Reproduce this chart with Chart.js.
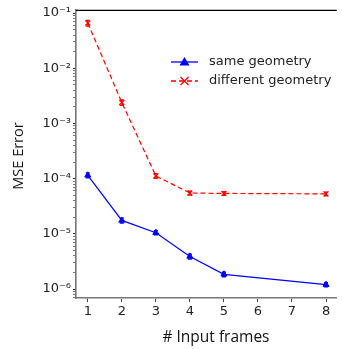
<!DOCTYPE html>
<html lang="en">
<head>
    <meta charset="UTF-8">
    <title>MSE Error vs Input frames</title>
    <script src="https://cdn.jsdelivr.net/npm/chart.js"></script>
    <style>
        html, body { margin: 0; padding: 0; background: #fff; }
        #wrap { width: 342px; height: 349px; }
    </style>
</head>
<body>
<div id="wrap"><canvas id="mseChart" width="342" height="349"></canvas></div>
<script>
// data
var frames = [1, 2, 3, 4, 5, 8];
var sameGeometry = [1.15e-4, 1.75e-5, 1.05e-5, 3.9e-6, 1.85e-6, 1.2e-6];
var sameErr = [1.2e-5, 1.8e-6, 9e-7, 4e-7, 1.8e-7, 1.1e-7];
var diffGeometry = [6.6e-2, 2.4e-3, 1.12e-4, 5.5e-5, 5.4e-5, 5.3e-5];
var diffErr = [8e-3, 2.8e-4, 1.1e-5, 4.5e-6, 4e-6, 4e-6];
var xTicks = [1, 2, 3, 4, 5, 6, 7, 8];
var yDecades = [1e-6, 1e-5, 1e-4, 1e-3, 1e-2, 1e-1];
var yTickLabels = ['10\u207B\u2076', '10\u207B\u2075', '10\u207B\u2074', '10\u207B\u00B3', '10\u207B\u00B2', '10\u207B\u00B9'];
var xTitle = '# Input frames';
var yTitle = 'MSE Error';

var tickFont = { family: 'DejaVu Sans', size: 13 };

// small vertical error bars with caps
var errorBars = {
    id: 'errorBars',
    afterDatasetsDraw: function (chart) {
        var ctx = chart.ctx;
        var xs = chart.scales.x, ys = chart.scales.y;
        chart.data.datasets.forEach(function (ds) {
            if (!ds.errors) return;
            ctx.save();
            ctx.strokeStyle = ds.borderColor;
            ctx.lineWidth = 1.3;
            ds.data.forEach(function (p, i) {
                var px = xs.getPixelForValue(p.x);
                var y1 = ys.getPixelForValue(p.y - ds.errors[i]);
                var y2 = ys.getPixelForValue(p.y + ds.errors[i]);
                ctx.beginPath();
                ctx.moveTo(px, y1); ctx.lineTo(px, y2);
                ctx.moveTo(px - 2, y1); ctx.lineTo(px + 2, y1);
                ctx.moveTo(px - 2, y2); ctx.lineTo(px + 2, y2);
                ctx.stroke();
            });
            ctx.restore();
        });
    }
};

// top spine, axis titles and legend inside the axes
var frameAndLegend = {
    id: 'frameAndLegend',
    afterDraw: function (chart) {
        var ctx = chart.ctx, a = chart.chartArea;
        ctx.save();
        ctx.strokeStyle = '#000';
        ctx.lineWidth = 1.3;
        ctx.beginPath();
        ctx.moveTo(a.left, a.top + 0.5);
        ctx.lineTo(a.right, a.top + 0.5);
        ctx.stroke();

        // axis titles
        ctx.fillStyle = '#111';
        ctx.textAlign = 'center';
        ctx.textBaseline = 'middle';
        ctx.font = '15.5px "Open Sans"';
        ctx.fillText(xTitle, 216, 338);
        ctx.save();
        ctx.translate(19, 156);
        ctx.rotate(-Math.PI / 2);
        ctx.font = '14.5px "Open Sans"';
        ctx.fillText(yTitle, 0, 0);
        ctx.restore();

        var x0 = 171, y0 = 62, gap = 19;
        chart.data.datasets.forEach(function (ds, i) {
            var y = y0 + i * gap;
            ctx.strokeStyle = ds.borderColor;
            ctx.lineWidth = 1.3;
            ctx.setLineDash(ds.borderDash || []);
            ctx.beginPath();
            ctx.moveTo(x0, y); ctx.lineTo(x0 + 27, y);
            ctx.stroke();
            ctx.setLineDash([]);
            var cx = x0 + 13.5;
            ctx.fillStyle = ds.borderColor;
            ctx.beginPath();
            if (ds.pointStyle === 'triangle') {
                ctx.moveTo(cx, y - 5); ctx.lineTo(cx + 5, y + 3.5); ctx.lineTo(cx - 5, y + 3.5);
                ctx.closePath(); ctx.fill();
            } else {
                ctx.moveTo(cx - 4, y - 4); ctx.lineTo(cx + 4, y + 4);
                ctx.moveTo(cx + 4, y - 4); ctx.lineTo(cx - 4, y + 4);
                ctx.stroke();
            }
            ctx.fillStyle = '#222';
            ctx.font = '13px "DejaVu Sans"';
            ctx.textBaseline = 'middle';
            ctx.textAlign = 'left';
            ctx.fillText(ds.label, 209, y);
        });
        ctx.restore();
    }
};

var ctx = document.getElementById('mseChart').getContext('2d');
var mseChart = new Chart(ctx, {
    type: 'line',
    data: {
        datasets: [{
            label: 'same geometry',
            data: sameGeometry.map(function (v, i) { return { x: frames[i], y: v }; }),
            errors: sameErr,
            borderColor: '#0000ff',
            backgroundColor: '#0000ff',
            borderWidth: 1.2,
            pointStyle: 'triangle',
            pointRadius: 3.5,
            pointBorderWidth: 1,
            tension: 0
        }, {
            label: 'different geometry',
            data: diffGeometry.map(function (v, i) { return { x: frames[i], y: v }; }),
            errors: diffErr,
            borderColor: '#ff0000',
            backgroundColor: '#ff0000',
            borderWidth: 1.2,
            borderDash: [5, 3],
            pointStyle: 'cross',
            rotation: 45,
            pointRadius: 3.5,
            pointBorderWidth: 1.2,
            tension: 0
        }]
    },
    options: {
        responsive: false,
        animation: false,
        layout: { padding: { top: 8, right: 0, left: 0, bottom: 0 } },
        plugins: { legend: { display: false }, tooltip: { enabled: false } },
        scales: {
            x: {
                type: 'linear',
                min: 0.654,
                max: 8.317,
                afterBuildTicks: function (s) { s.ticks = xTicks.map(function (v) { return { value: v }; }); },
                afterFit: function (s) { s.height = 51; },
                grid: { display: true, drawOnChartArea: false, drawTicks: true, tickLength: 4, color: '#444' },
                border: { display: true, color: '#777', width: 1.6 },
                ticks: { color: '#222', font: tickFont, padding: 2, maxRotation: 0 },
                title: { display: false }
            },
            y: {
                type: 'logarithmic',
                min: 6.88e-7,
                max: 0.1147,
                afterBuildTicks: function (s) {
                    var t = [];
                    yDecades.forEach(function (d) {
                        for (var k = 1; k < 10; k++) {
                            var v = d * k;
                            if (v >= s.min && v <= s.max) t.push({ value: v });
                        }
                    });
                    if (s.min < 1e-6) t.unshift({ value: 7e-7 }, { value: 8e-7 }, { value: 9e-7 });
                    s.ticks = t;
                },
                afterFit: function (s) { s.width = 76; },
                grid: {
                    display: true, drawOnChartArea: false, drawTicks: true, tickLength: 3,
                    color: function (c) { return yDecades.indexOf(c.tick && c.tick.value) >= 0 ? '#222' : '#777'; }
                },
                border: { display: true, color: '#777', width: 1.6 },
                ticks: {
                    autoSkip: false,
                    color: '#222',
                    font: tickFont,
                    padding: 2,
                    callback: function (v) {
                        var i = yDecades.indexOf(v);
                        return i >= 0 ? yTickLabels[i] : '';
                    }
                },
                title: { display: false }
            }
        }
    },
    plugins: [errorBars, frameAndLegend]
});
</script>
</body>
</html>
